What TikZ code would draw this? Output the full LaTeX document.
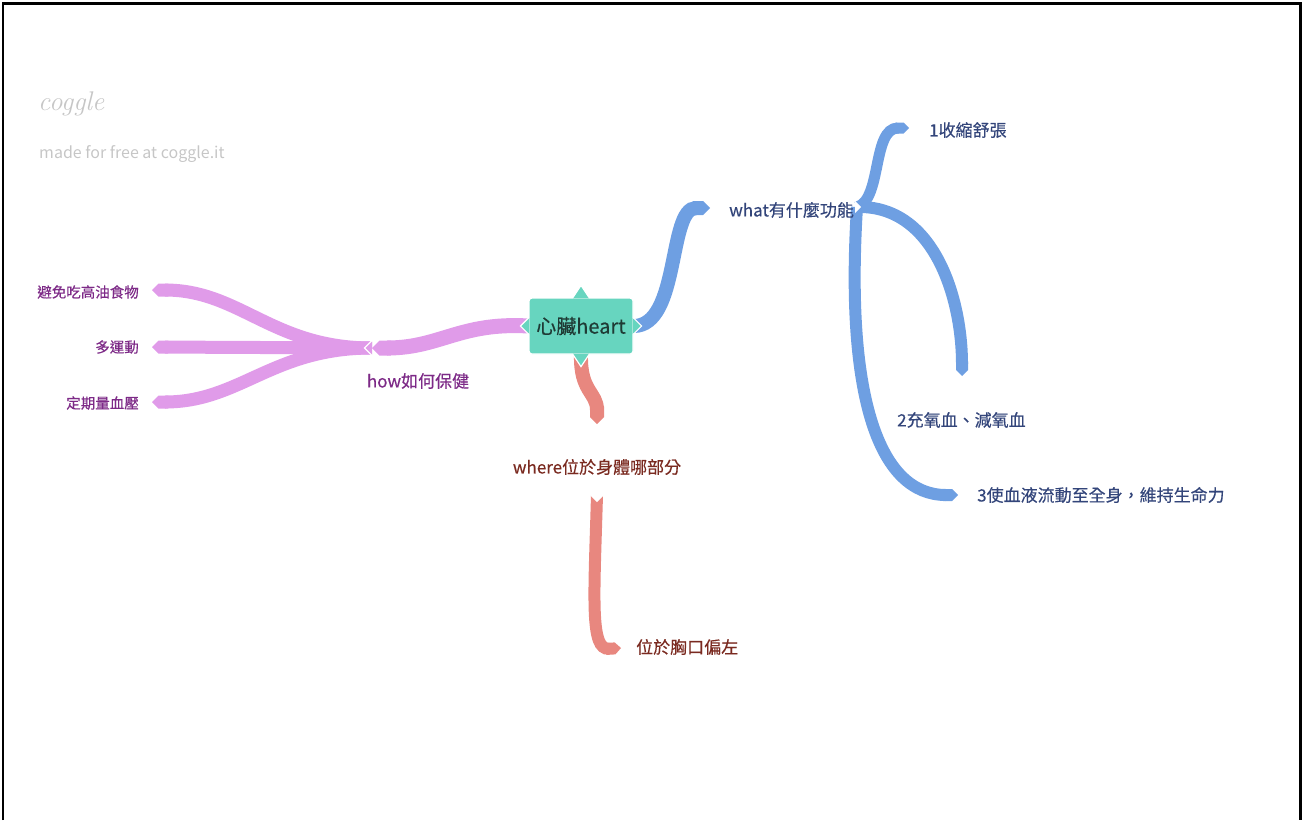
\documentclass[tikz,border=0pt]{standalone}
\usepackage{fontspec}
\newfontfamily\cjk[FakeBold=0.4]{Noto Sans CJK TC}
\newfontfamily\cjkw{Noto Sans CJK TC}
\usetikzlibrary{arrows.meta,calc}
\definecolor{pinkbr}{HTML}{E09BE9}
\definecolor{pinktx}{HTML}{7D2A87}
\definecolor{bluebr}{HTML}{6E9FE2}
\definecolor{bluetx}{HTML}{33457A}
\definecolor{redbr}{HTML}{E8877F}
\definecolor{redtx}{HTML}{7A2A20}
\definecolor{tealbg}{HTML}{67D5BF}
\definecolor{tealtx}{HTML}{1F3B35}
\definecolor{wm}{HTML}{C6C6C6}
\pgfdeclarelayer{bg}
\pgfsetlayers{bg,main}
\begin{document}
\begin{tikzpicture}[x=1pt,y=-1pt,
  lbl/.style={inner sep=0pt, font=\cjk\fontsize{17}{20}\selectfont},
  pinklbl/.style={lbl, text=pinktx, font=\cjk\fontsize{14.5}{17}\selectfont},
  pinkmid/.style={lbl, text=pinktx},
  bluelbl/.style={lbl, text=bluetx},
  redlbl/.style={lbl, text=redtx},
  centerbox/.style={fill=tealbg, draw=white, line width=1.2pt, rounded corners=3pt,
     minimum width=104pt, minimum height=56pt, inner sep=0pt, text=tealtx,
     font=\cjk\fontsize{20}{24}\selectfont},
  branch/.style={line width=#1, line cap=butt, -{Triangle Cap[]}},
  notch/.style={fill=white, draw=none},
]
\useasboundingbox (0,0) rectangle (1304,820);
\draw[line width=2.6pt] (3,820) -- (3,3.2) -- (1300.5,3.2) -- (1300.5,820);

% watermark
\node[anchor=west, inner sep=0pt, text=wm, font=\itshape\fontsize{27}{30}\selectfont] (logo) at (38,104) {coggle};
\node[anchor=west, inner sep=0pt, text=wm, font=\cjkw\fontsize{16}{19}\selectfont] (made) at (39,154) {made for free at coggle.it};

% central node
\node[centerbox] (c) at (581,326) {\phantom{心臟heart}};
\fill[tealbg] ($(c.north)+(-8,1)$) -- ($(c.north)+(0,-12)$) -- ($(c.north)+(8,1)$) -- cycle;
\fill[tealbg] ($(c.south)+(-8,-1)$) -- ($(c.south)+(0,12)$) -- ($(c.south)+(8,-1)$) -- cycle;
\fill[tealbg] ($(c.west)+(1,-8)$) -- ($(c.west)+(-8,0)$) -- ($(c.west)+(1,8)$) -- cycle;
\fill[tealbg] ($(c.east)+(-1,-8)$) -- ($(c.east)+(8,0)$) -- ($(c.east)+(-1,8)$) -- cycle;
\draw[white, line width=1.2pt] ($(c.north)+(-8,0)$) -- ($(c.north)+(0,-12)$) -- ($(c.north)+(8,0)$);
\draw[white, line width=1.2pt] ($(c.south)+(-8,0)$) -- ($(c.south)+(0,12)$) -- ($(c.south)+(8,0)$);
\draw[white, line width=1.2pt] ($(c.west)+(0,-8)$) -- ($(c.west)+(-8,0)$) -- ($(c.west)+(0,8)$);
\draw[white, line width=1.2pt] ($(c.east)+(0,-8)$) -- ($(c.east)+(8,0)$) -- ($(c.east)+(0,8)$);
\node[font=\cjk\fontsize{20}{24}\selectfont, text=tealtx, inner sep=0pt] (ct) at (c.center) {心臟heart};

% labels
\node[pinkmid, anchor=center] (how) at (418,381) {how如何保健};
\node[pinklbl, anchor=east] (p1) at (139,292) {避免吃高油食物};
\node[pinklbl, anchor=east] (p2) at (139,347) {多運動};
\node[pinklbl, anchor=east] (p3) at (139,403) {定期量血壓};

\node[bluelbl, anchor=west] (what) at (729,210) {what有什麼功能};
\node[bluelbl, anchor=west] (b1l) at (929,130) {1收縮舒張};
\node[bluelbl, anchor=west] (b2l) at (897,420) {2充氧血、減氧血};
\node[bluelbl, anchor=west] (b3l) at (977,495) {3使血液流動至全身，維持生命力};

\node[redlbl, anchor=center] (where) at (597,467) {where位於身體哪部分};
\node[redlbl, anchor=west] (r1l) at (636,647) {位於胸口偏左};

% branch coordinates
\coordinate (hw) at (372,348);
\coordinate (a1) at (152,290);
\coordinate (a2) at (152,347);
\coordinate (a3) at (152,402);
\coordinate (wt) at (710,208);
\coordinate (ws) at (857,207);
\coordinate (b1) at (909,128);
\coordinate (b2) at (962,376);
\coordinate (b3) at (958,495);
\coordinate (rt) at (597,424);
\coordinate (rs) at (597,495);
\coordinate (rc) at (621,648);

\begin{pgfonlayer}{bg}
  % pink
  \draw[pinkbr, branch=13pt] (hw) .. controls (272,348) and (240,290) .. (a1);
  \draw[pinkbr, branch=13pt] (hw) -- (a2);
  \draw[pinkbr, branch=13pt] (hw) .. controls (272,348) and (240,402) .. (a3);
  \draw[pinkbr, branch=15pt] (c.west) .. controls (460,322) and (440,348) .. (hw);
  \draw[white, line width=1.2pt] ($(hw)+(0,-7.5)$) -- ($(hw)+(-7.5,0)$) -- ($(hw)+(0,7.5)$);
  % blue
  \draw[bluebr, branch=14pt] (c.east) .. controls (680,326) and (668,208) .. (wt);
  \draw[bluebr, branch=11pt] (ws) .. controls (882,200) and (872,128) .. (b1);
  \draw[bluebr, branch=12pt] (ws) .. controls (935,205) and (962,300) .. (b2);
  \draw[bluebr, branch=12pt] (ws) .. controls (845,400) and (880,495) .. (b3);
  \fill[notch] ($(ws)+(-2,-6)$) -- ($(ws)+(4,0)$) -- ($(ws)+(-2,6)$) -- cycle;
  % red
  \draw[redbr, branch=14pt] (c.south) .. controls (580,392) and (597,392) .. (rt);
  \draw[redbr, branch=12pt] (rs) .. controls (594,600) and (590,650) .. (rc);
  \fill[notch] ($(rs)+(-8,-1)$) -- ($(rs)+(0,7)$) -- ($(rs)+(8,-1)$) -- cycle;
\end{pgfonlayer}
\end{tikzpicture}
\end{document}
